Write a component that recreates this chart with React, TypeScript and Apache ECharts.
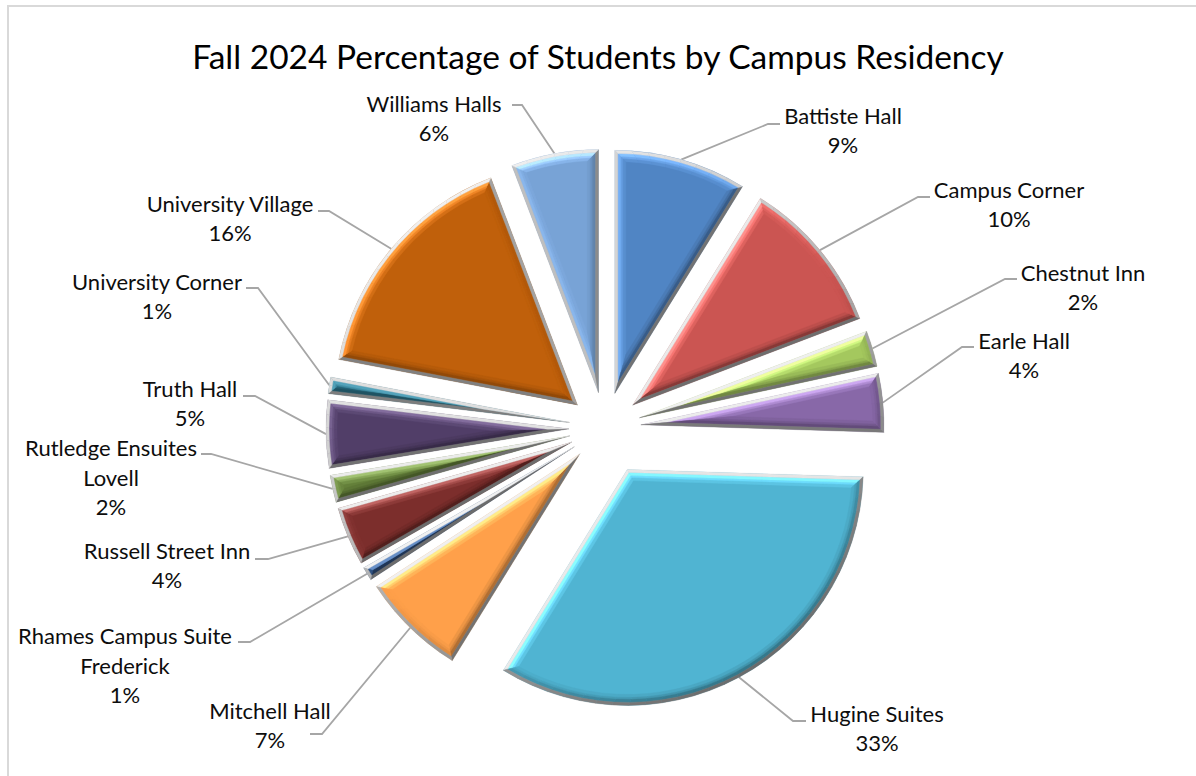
import React, { useEffect, useRef } from "react";
import * as echarts from "echarts";

const titleText = "Fall 2024 Percentage of Students by Campus Residency";
const names = [
  "Battiste Hall", "Campus Corner", "Chestnut Inn", "Earle Hall", "Hugine Suites", "Mitchell Hall",
  "Rhames Campus Suite\nFrederick", "Russell Street Inn", "Rutledge Ensuites\nLovell", "Truth Hall",
  "University Corner", "University Village", "Williams Halls",
];
const values = [8.8, 10.4, 2.4, 3.9, 33.3, 7, 0.9, 3.9, 1.8, 4.5, 1.1, 16.2, 5.8];
const colors = [
  "#5085C4", "#CB5552", "#A4C85E", "#8868A8", "#50B4D2", "#FFA04A",
  "#2E5080", "#7C2E2C", "#64803A", "#513E68", "#2A7085", "#C0600B", "#78A3D6",
];
// label centre, leader elbow, leader end (layout only)
const labelCentres = [
  [843, 130], [1009, 204], [1083, 287], [1024, 355], [877, 728], [270, 725],
  [125, 665], [167, 565], [111, 477], [190, 403], [157, 296], [230, 218], [434, 118],
];
const leaderElbows = [
  [768, 124], [918, 197], [1005, 279], [962, 347], [793, 721], [322, 734],
  [250, 642], [268, 559], [211, 454], [255, 396], [258, 288], [329, 211], [522, 105],
];
const leaderEnds = [
  [780, 124], [930, 197], [1017, 279], [974, 347], [806, 721], [310, 734],
  [238, 642], [255, 559], [201, 454], [243, 396], [246, 288], [318, 211], [512, 105],
];

const CX = 605, CY = 428, OFFSET = 36, R = 243;
const BIG_INDEX = 4, BIG_OFFSET = 47, BIG_R = 236; // the largest wedge sits further out and is a little smaller
const D2R = Math.PI / 180;
const FONT = "Lato, Carlito, sans-serif";

const dir = (deg: number) => [Math.sin(deg * D2R), -Math.cos(deg * D2R)];
const total = values.reduce((a, b) => a + b, 0);
const slices = (() => {
  let acc = 0;
  return values.map((v, i) => {
    const a0 = (acc / total) * 360;
    acc += v;
    const a1 = (acc / total) * 360;
    const mid = (a0 + a1) / 2;
    const u = dir(mid);
    const off = i === BIG_INDEX ? BIG_OFFSET : OFFSET;
    return { a0, a1, mid, r: i === BIG_INDEX ? BIG_R : R, apex: [CX + off * u[0], CY + off * u[1]] };
  });
})();

const hex = (c: string) => [1, 3, 5].map((i) => parseInt(c.slice(i, i + 2), 16));
const LIGHT = [-0.55, -0.835];
const shade = (n: number[]) => n[0] * LIGHT[0] + n[1] * LIGHT[1];
const rimColor = (s: number) => {
  const v = Math.round(s >= 0 ? 178 + 62 * s : 178 + 70 * s);
  return `rgb(${v},${v},${v})`;
};
const bevelColor = (base: string, s: number, k: number) => {
  const rgb = hex(base);
  if (s < 0) {
    const f = 1 + s * 0.24 * k;
    return `rgb(${rgb.map((x) => Math.round(x * f)).join(",")})`;
  }
  const boost = 1 + s * 0.32 * k;
  const white = s * 0.14 * k;
  return `rgb(${rgb
    .map((x) => {
      const y = Math.min(255, x * boost);
      return Math.round(y + (255 - y) * white);
    })
    .join(",")})`;
};

function contour(i: number, w: number) {
  const s = slices[i];
  const half = (s.a1 - s.a0) / 2;
  const sh = Math.sin(half * 0.9 * D2R);
  const wMax = (s.r * sh) / (1 + sh);
  const ww = Math.min(w, wMax);
  const r = s.r - ww;
  const delta = Math.asin(ww / r) / D2R;
  const u = dir(s.mid);
  const t = ww / Math.sin(half * D2R);
  const apex = [s.apex[0] + u[0] * t, s.apex[1] + u[1] * t];
  const n = Math.max(2, Math.ceil((s.a1 - s.a0) / 4));
  const arc: number[][] = [];
  const angs: number[] = [];
  for (let k = 0; k <= n; k++) {
    const a = s.a0 + delta + ((s.a1 - s.a0 - 2 * delta) * k) / n;
    const d = dir(a);
    angs.push(a);
    arc.push([s.apex[0] + r * d[0], s.apex[1] + r * d[1]]);
  }
  return { apex, arc, angs };
}

function band(i: number, w1: number, w2: number, paint: (s: number) => string) {
  const s = slices[i];
  const c1 = contour(i, w1);
  const c2 = contour(i, w2);
  const n = c1.arc.length - 1;
  const out: any[] = [];
  const add = (points: number[][], fill: string) =>
    out.push({ type: "polygon", silent: true, shape: { points }, style: { fill, stroke: fill, lineWidth: 0.4 } });
  const startN = [-Math.cos(s.a0 * D2R), -Math.sin(s.a0 * D2R)];
  const endN = [Math.cos(s.a1 * D2R), Math.sin(s.a1 * D2R)];
  add([c1.apex, c1.arc[0], c2.arc[0], c2.apex], paint(shade(startN)));
  add([c1.apex, c1.arc[n], c2.arc[n], c2.apex], paint(shade(endN)));
  for (let k = 0; k < n; k++) {
    const m = dir((c1.angs[k] + c1.angs[k + 1]) / 2);
    add([c1.arc[k], c1.arc[k + 1], c2.arc[k + 1], c2.arc[k]], paint(shade(m)));
  }
  return out;
}

function renderBevel(params: any) {
  const i = params.dataIndex;
  const base = colors[i];
  return {
    type: "group",
    children: [
      ...band(i, 8, 11, (s) => bevelColor(base, s, 0.3)),
      ...band(i, 6, 8, (s) => bevelColor(base, s, 0.75)),
      ...band(i, 3, 6, (s) => bevelColor(base, s, 1.4)),
      ...band(i, 0, 3, rimColor),
    ],
  };
}

const wedges = (show: (i: number) => boolean) =>
  names.map((name, i) => ({
    name,
    value: values[i],
    selected: true,
    itemStyle: { color: show(i) ? colors[i] : "rgba(0,0,0,0)" },
  }));

export default function App() {
  const ref = useRef<HTMLDivElement>(null);
  useEffect(() => {
    const chart = echarts.init(ref.current!, null, { renderer: "svg" });
    const piePart = {
      type: "pie",
      center: [CX, CY],
      startAngle: 90,
      clockwise: true,
      selectedMode: "multiple",
      emphasis: { disabled: true },
      silent: true,
      label: { show: false },
      labelLine: { show: false },
    };
    chart.setOption({
      animation: false,
      backgroundColor: "#fff",
      title: {
        text: titleText,
        left: "center",
        top: 34,
        textStyle: { fontFamily: FONT, fontSize: 33.5, fontWeight: "normal", color: "#000" },
      },
      graphic: [
        {
          type: "rect",
          silent: true,
          shape: { x: 8, y: 6, width: 1300, height: 900 },
          style: { fill: "none", stroke: "#D9D9D9", lineWidth: 2 },
        },
      ],
      series: [
        {
          ...piePart,
          radius: [0, R],
          selectedOffset: OFFSET,
          data: wedges((i) => i !== BIG_INDEX),
        },
        {
          ...piePart,
          radius: [0, BIG_R],
          selectedOffset: BIG_OFFSET,
          data: wedges((i) => i === BIG_INDEX),
        },
        {
          type: "pie",
          center: [CX, CY],
          radius: [0, R],
          startAngle: 90,
          clockwise: true,
          avoidLabelOverlap: false,
          selectedMode: false,
          emphasis: { disabled: true },
          silent: true,
          data: names.map((name, i) => ({
            name,
            value: values[i],
            itemStyle: { color: "rgba(0,0,0,0)" },
          })),
          label: {
            show: true,
            formatter: (p: any) => `${p.name}\n${Math.round(p.value)}%`,
            fontFamily: FONT,
            fontSize: 22,
            lineHeight: 29.5,
            color: "#0d0d0d",
            align: "center",
          },
          labelLine: { show: true, lineStyle: { color: "#A6A6A6", width: 1.8 } },
          labelLayout: (p: any) => {
            const i = p.dataIndex;
            const s = slices[i];
            const u = dir(s.mid);
            return {
              x: labelCentres[i][0],
              y: labelCentres[i][1],
              align: "center",
              verticalAlign: "middle",
              labelLinePoints: [
                [s.apex[0] + s.r * u[0], s.apex[1] + s.r * u[1]],
                leaderElbows[i],
                leaderEnds[i],
              ],
            };
          },
        },
        {
          type: "custom",
          coordinateSystem: "none",
          silent: true,
          z: 3,
          data: values,
          renderItem: renderBevel,
        },
      ],
    });
    return () => chart.dispose();
  }, []);
  return <div ref={ref} style={{ position: "fixed", left: 0, top: 0, width: 1196, height: 776 }} />;
}
